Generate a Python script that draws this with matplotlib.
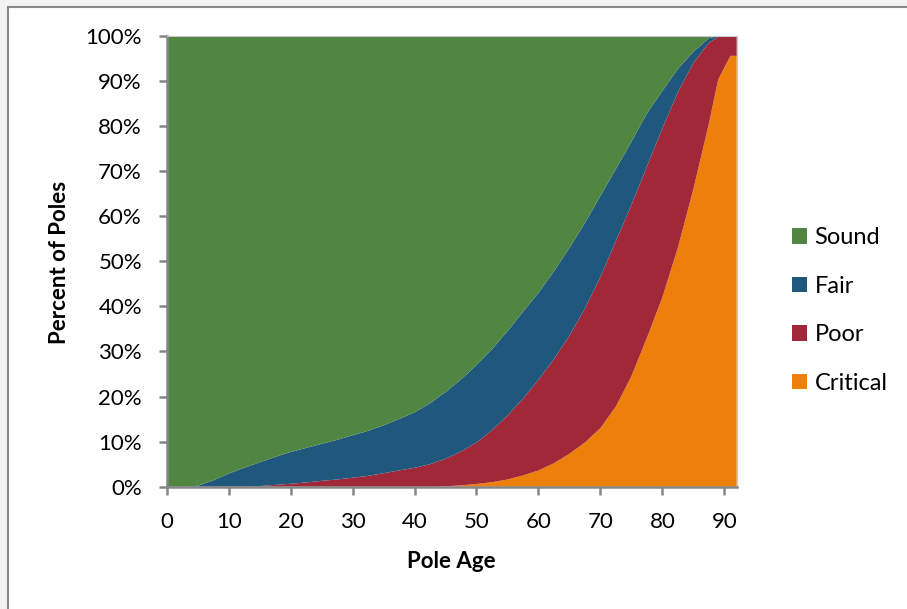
import matplotlib
matplotlib.use("Agg")
import matplotlib.pyplot as plt
from matplotlib.patches import Rectangle, Patch
from matplotlib.ticker import FuncFormatter

plt.rcParams['font.family'] = ['Lato', 'DejaVu Sans']

# Pole age (years)
ages = [0, 2.5, 5, 7.5, 10, 12.5, 15, 17.5, 20, 22.5, 25, 27.5, 30, 32.5, 35, 37.5, 40, 42.5, 45,
        47.5, 50, 52.5, 55, 57.5, 60, 62.5, 65, 67.5, 70, 72.5, 75, 77.5, 80, 82.5, 85, 87.5,
        89, 90, 91, 92]
# Percent of poles in each condition (stacked, bottom to top)
critical = [0, 0, 0, 0, 0, 0, 0, 0, 0, 0, 0, 0, 0, 0, 0, 0, 0, 0, 0.1,
            0.3, 0.6, 1.0, 1.6, 2.5, 3.6, 5.2, 7.3, 9.8, 13.0, 17.8, 24.5, 33.0, 42.0, 53.0, 66.0, 80.5,
            90.3, 93.0, 95.6, 95.6]
poor = [0, 0, 0, 0, 0, 0, 0.15, 0.4, 0.65, 0.95, 1.3, 1.6, 2.0, 2.4, 3.0, 3.6, 4.2, 5.0, 6.1,
        7.5, 9.2, 11.5, 14.2, 17.0, 20.1, 23.1, 26.2, 29.7, 33.5, 36.7, 38.0, 38.0, 37.5, 34.5, 28.0, 18.0,
        9.5, 7.0, 4.4, 4.4]
fair = [0, 0, 0.2, 1.4, 2.9, 4.2, 5.25, 6.2, 7.05, 7.65, 8.2, 8.8, 9.4, 10.0, 10.6, 11.4, 12.3, 13.5, 14.8,
        16.0, 17.2, 18.0, 18.7, 19.3, 19.3, 19.5, 19.5, 19.0, 18.0, 16.0, 14.0, 11.8, 8.3, 5.2, 2.5, 1.0,
        0.2, 0, 0, 0]
sound = [100, 100, 99.8, 98.6, 97.1, 95.8, 94.6, 93.4, 92.3, 91.4, 90.5, 89.6, 88.6, 87.6, 86.4, 85.0, 83.5, 81.5, 79.0,
         76.2, 73.0, 69.5, 65.5, 61.2, 57.0, 52.2, 47.0, 41.5, 35.5, 29.5, 23.5, 17.2, 12.2, 7.3, 3.5, 0.5,
         0, 0, 0, 0]

series_names = ["Critical", "Poor", "Fair", "Sound"]
colors = ["#ee7f0a", "#a02838", "#1f587c", "#508642"]

x_ticks = [0, 10, 20, 30, 40, 50, 60, 70, 80, 90]
y_ticks = [0, 10, 20, 30, 40, 50, 60, 70, 80, 90, 100]

W, H = 907, 609
fig = plt.figure(figsize=(W / 100, H / 100), dpi=100, facecolor="#f2f2f2")

# chart frame
fig.patches.append(Rectangle((7.5 / W, -0.1), 1.2, 1.1 - 6.7 / H, transform=fig.transFigure,
                             facecolor="white", edgecolor="#888888", linewidth=1.5, zorder=-5))

ax = fig.add_axes([166.7 / W, (H - 486.7) / H, (736.7 - 166.7) / W, (486.7 - 36) / H])
ax.set_zorder(2)
ax.stackplot(ages, critical, poor, fair, sound, colors=colors, linewidth=0)

ax.set_xlim(0, 92)
ax.set_ylim(0, 100)
ax.set_xticks(x_ticks)
ax.set_yticks(y_ticks)
ax.yaxis.set_major_formatter(FuncFormatter(lambda v, p: f"{int(v)}%"))

for s in ["left", "bottom"]:
    ax.spines[s].set_color("#868686")
    ax.spines[s].set_linewidth(1.8)
for s in ["top", "right"]:
    ax.spines[s].set_color("#c8c8c8")
    ax.spines[s].set_linewidth(0.8)

ax.tick_params(axis="both", which="major", direction="out", length=5.8, width=1.8,
               color="#868686", labelsize=16, labelcolor="black")
ax.tick_params(axis="x", pad=12.5)
ax.tick_params(axis="y", pad=12)

fig.text(451.7 / W, 1 - 562 / H, "Pole Age", ha="center", va="center",
         fontsize=16, fontweight="bold")
fig.text(60 / W, 1 - 262 / H, "Percent of Poles", ha="center", va="center",
         rotation=90, fontsize=16, fontweight="bold")

handles = [Patch(facecolor=colors[i], edgecolor="none") for i in [3, 2, 1, 0]]
labels = [series_names[i] for i in [3, 2, 1, 0]]
fig.legend(handles, labels, loc="center left", bbox_to_anchor=(791.7 / W, 1 - 310.5 / H),
           frameon=False, fontsize=17, handlelength=0.64, handleheight=0.64,
           handletextpad=0.33, labelspacing=1.17, borderpad=0, borderaxespad=0)

fig.savefig("out.png", dpi=100, facecolor=fig.get_facecolor())
